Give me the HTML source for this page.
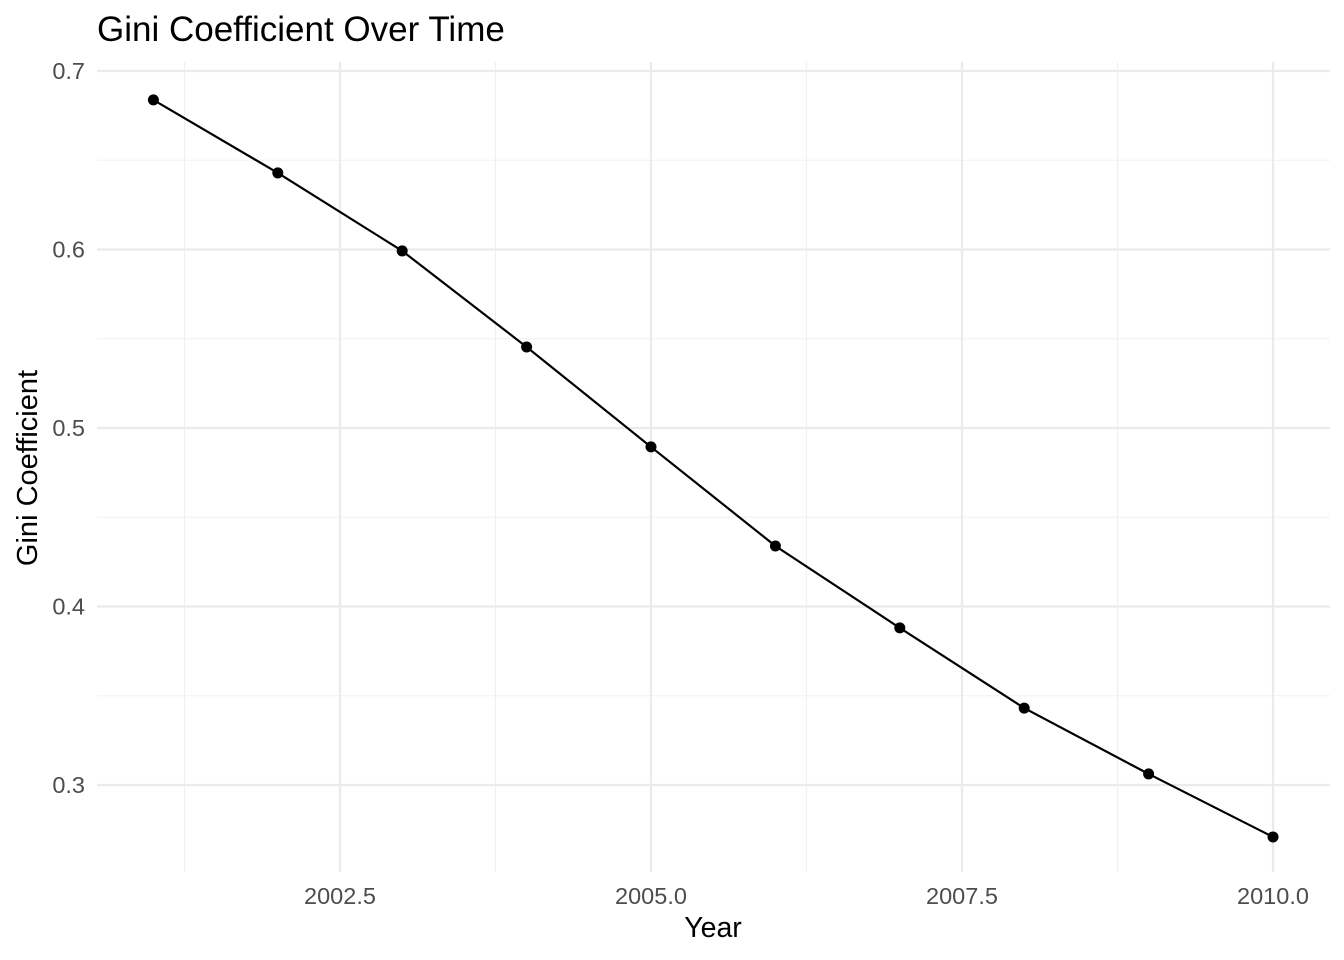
<!DOCTYPE html>
<html><head><meta charset="utf-8"><style>
body{margin:0;background:#fff;}
svg{display:block;font-family:"Liberation Sans",sans-serif;}
</style></head><body>
<svg id="chart" width="1344" height="960" viewBox="0 0 1344 960">
<g id="grid"></g>
<g id="axes"></g>
<g id="marks"></g>
<text x="97" y="41" font-size="35" fill="#000">Gini Coefficient Over Time</text>
<text x="713" y="937" font-size="28.5" text-anchor="middle" fill="#000">Year</text>
<text transform="translate(37,468) rotate(-90)" font-size="29" text-anchor="middle" fill="#000">Gini Coefficient</text>
</svg>
<script>
const years=[2001,2002,2003,2004,2005,2006,2007,2008,2009,2010];
const gini=[0.6838,0.6429,0.5992,0.5454,0.4894,0.4339,0.3880,0.3431,0.3062,0.2709];
const xTicks=[2002.5,2005.0,2007.5,2010.0];
const xTickLabels=["2002.5","2005.0","2007.5","2010.0"];
const xMinor=[2001.25,2003.75,2006.25,2008.75];
const yTicks=[0.3,0.4,0.5,0.6,0.7];
const yTickLabels=["0.3","0.4","0.5","0.6","0.7"];
const yMinor=[0.35,0.45,0.55,0.65];
const NS="http://www.w3.org/2000/svg";
const L=97,R=1330,T=62,B=872;
const xs=v=>153.4+(v-2001)*124.4;
const ys=v=>71+(0.7-v)*1785;
function mk(tag,attrs,parent){const e=document.createElementNS(NS,tag);for(const k in attrs)e.setAttribute(k,attrs[k]);parent.appendChild(e);return e;}
const grid=document.getElementById('grid'),axes=document.getElementById('axes'),marks=document.getElementById('marks');
xMinor.forEach(v=>{const e=mk('line',{x1:xs(v),x2:xs(v),y1:T,y2:B,stroke:'#f0f0f0','stroke-width':1.1},grid);

});
yMinor.forEach(v=>{const e=mk('line',{x1:L,x2:R,y1:ys(v),y2:ys(v),stroke:'#f0f0f0','stroke-width':1.1},grid);

});
xTicks.forEach((v,i)=>{const e=mk('line',{x1:xs(v),x2:xs(v),y1:T,y2:B,stroke:'#ebebeb','stroke-width':2.2},grid);


const t=mk('text',{x:xs(v),y:904,'font-size':23.5,'text-anchor':'middle',fill:'#4d4d4d'},axes);t.textContent=xTickLabels[i];

});
yTicks.forEach((v,i)=>{const e=mk('line',{x1:L,x2:R,y1:ys(v),y2:ys(v),stroke:'#ebebeb','stroke-width':2.2},grid);


const t=mk('text',{x:85,y:ys(v)+8,'font-size':23.5,'text-anchor':'end',fill:'#4d4d4d'},axes);t.textContent=yTickLabels[i];

});
const pts=years.map((y,i)=>xs(y)+','+ys(gini[i])).join(' ');
const pl=mk('polyline',{points:pts,fill:'none',stroke:'#000','stroke-width':2.2},marks);


years.forEach((y,i)=>{const c=mk('circle',{cx:xs(y),cy:ys(gini[i]),r:5.5,fill:'#000'},marks);

});
</script>
</body></html>
